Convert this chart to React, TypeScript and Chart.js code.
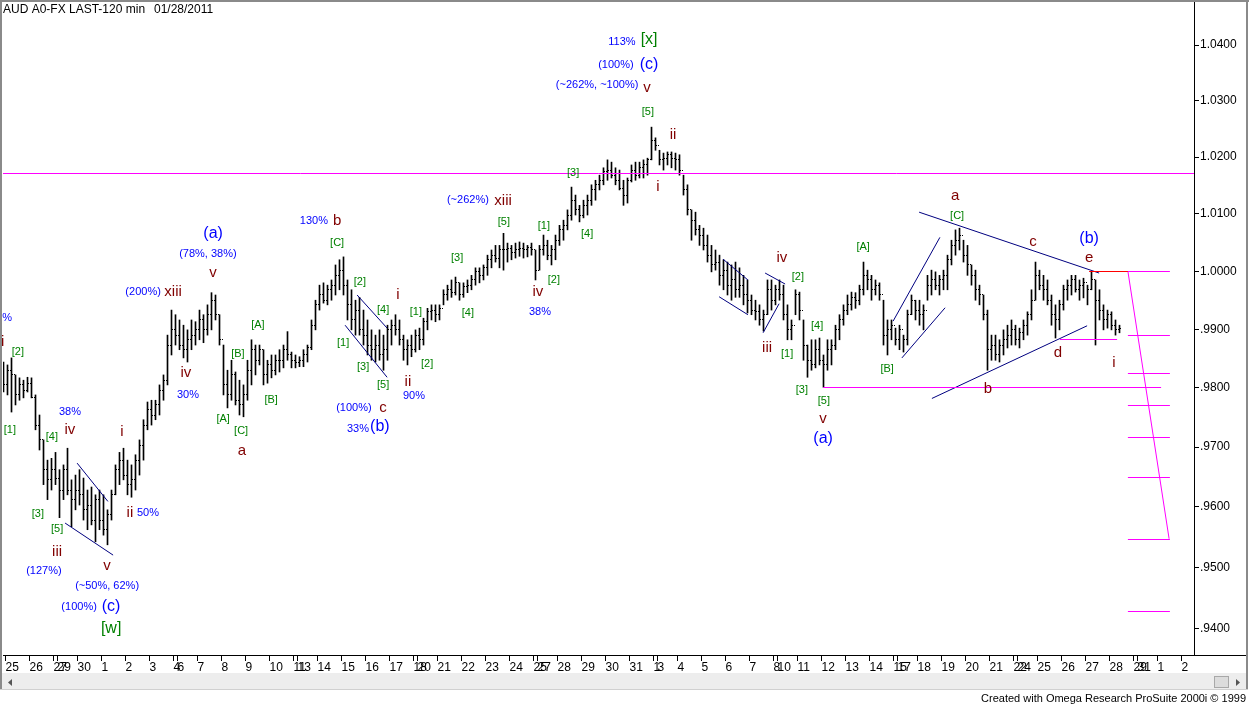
import React, { useEffect, useRef } from 'react';
import { Chart, registerables } from 'chart.js';
Chart.register(...registerables);

// ---- price data (values in 1/10000 of AUD/USD, one bar per 4 hours of the 120-min chart) ----
const highs = [
9844,9839,9851,9822,9817,9813,9818,9817,9788,9754,
9712,9678,9681,9691,9662,9670,9698,9645,9653,9662,
9648,9628,9633,9620,9628,9620,9595,9628,9670,9691,
9698,9678,9670,9687,9712,9746,9776,9779,9779,9805,
9822,9890,9933,9925,9916,9907,9899,9916,9913,9933,
9925,9942,9963,9959,9925,9873,9830,9847,9827,9813,
9805,9847,9882,9873,9873,9865,9847,9856,9856,9865,
9873,9896,9861,9856,9853,9865,9873,9916,9950,9976,
9980,9976,9985,10011,10020,10025,9985,9968,9950,9955,
9933,9916,9899,9890,9899,9890,9907,9916,9925,9916,
9890,9882,9890,9899,9902,9919,9936,9942,9942,9942,
9968,9976,9985,9990,9980,9980,9985,9993,10006,10006,
10011,10028,10037,10045,10045,10066,10049,10045,10049,10051,
10049,10045,10049,10037,10045,10063,10054,10045,10063,10080,
10089,10107,10147,10133,10115,10124,10133,10151,10159,10168,
10181,10195,10191,10181,10177,10159,10163,10186,10191,10191,
10195,10198,10253,10234,10212,10207,10209,10209,10207,10204,
10168,10151,10107,10103,10080,10075,10063,10045,10037,10028,
10020,10016,10011,10016,10006,9993,9985,9959,9950,9942,
9933,9985,9985,9976,9985,9976,9942,9916,9968,9964,
9916,9873,9882,9882,9885,9856,9882,9882,9907,9925,
9942,9959,9964,9963,9976,10016,10002,9993,9985,9980,
9950,9916,9916,9902,9907,9890,9933,9959,9950,9950,
9942,9993,10002,9999,9993,10002,10028,10054,10072,10075,
10054,10045,10011,10002,9976,9959,9933,9890,9890,9882,
9899,9907,9916,9907,9902,9916,9930,9968,10016,10002,
9993,9985,9959,9942,9950,9976,9985,9993,9993,9985,
9988,9976,9999,9985,9968,9942,9933,9930,9916,9907
];
const lows = [
9793,9788,9759,9771,9779,9783,9793,9783,9729,9695,
9637,9612,9628,9637,9582,9612,9620,9567,9595,9603,
9578,9562,9570,9542,9562,9553,9537,9578,9620,9637,
9645,9620,9616,9628,9653,9678,9729,9737,9746,9754,
9779,9805,9856,9873,9865,9851,9844,9865,9873,9882,
9877,9890,9899,9916,9873,9788,9766,9779,9771,9754,
9751,9779,9805,9822,9839,9805,9808,9817,9822,9827,
9834,9847,9834,9834,9836,9836,9844,9865,9899,9933,
9945,9942,9950,9959,9968,9959,9916,9899,9890,9890,
9873,9856,9847,9844,9847,9830,9847,9873,9890,9873,
9847,9839,9853,9861,9865,9873,9899,9916,9913,9916,
9942,9950,9955,9959,9950,9955,9963,9968,9976,9980,
9985,9993,10006,10016,10006,10002,10016,10020,10023,10026,
10023,10025,10028,9985,10002,10028,10020,10011,10020,10045,
10054,10072,10089,10098,10086,10093,10098,10115,10124,10142,
10151,10159,10163,10151,10142,10115,10119,10156,10159,10163,
10163,10168,10195,10212,10186,10177,10186,10181,10177,10168,
10133,10098,10054,10063,10045,10037,10016,9999,10002,9976,
9968,9959,9950,9955,9955,9942,9928,9925,9916,9907,
9897,9925,9933,9942,9950,9916,9882,9882,9925,9916,
9847,9818,9830,9834,9839,9801,9830,9839,9865,9882,
9907,9925,9933,9936,9942,9959,9968,9950,9959,9950,
9873,9856,9882,9873,9865,9861,9873,9925,9916,9907,
9899,9950,9959,9968,9959,9968,9968,10011,10028,10037,
10016,9993,9976,9950,9942,9916,9830,9847,9847,9844,
9856,9868,9873,9873,9868,9882,9890,9916,9950,9968,
9950,9942,9907,9885,9899,9933,9950,9959,9964,9950,
9954,9942,9968,9873,9916,9899,9902,9899,9890,9894
];
const closes = [
9805,9830,9822,9788,9805,9796,9808,9783,9737,9712,
9662,9645,9662,9648,9628,9662,9628,9612,9628,9620,
9595,9603,9578,9612,9578,9562,9587,9620,9662,9678,
9653,9637,9645,9678,9703,9737,9763,9754,9771,9796,
9813,9873,9899,9890,9873,9865,9882,9890,9899,9916,
9899,9925,9950,9925,9882,9805,9788,9822,9779,9771,
9788,9830,9865,9847,9865,9822,9839,9830,9847,9847,
9865,9856,9847,9844,9847,9856,9868,9907,9942,9959,
9950,9968,9976,9993,10002,9976,9942,9916,9933,9899,
9890,9873,9865,9873,9856,9865,9899,9907,9899,9882,
9865,9873,9865,9890,9882,9913,9930,9933,9925,9936,
9959,9968,9964,9980,9959,9973,9976,9985,9999,9993,
10006,10020,10028,10023,10037,10037,10040,10033,10037,10040,
10037,10042,10037,10002,10037,10045,10028,10037,10054,10072,
10080,10098,10124,10107,10098,10115,10124,10142,10151,10159,
10174,10177,10168,10159,10145,10133,10159,10177,10168,10181,
10186,10195,10230,10221,10195,10198,10204,10198,10195,10177,
10142,10107,10089,10072,10063,10045,10028,10011,10016,9993,
10002,9976,9985,9968,9976,9959,9950,9933,9930,9916,
9925,9968,9950,9968,9959,9925,9899,9907,9959,9933,
9873,9847,9839,9865,9847,9839,9865,9873,9899,9916,
9933,9942,9954,9950,9968,9993,9985,9968,9976,9959,
9890,9899,9907,9882,9899,9882,9925,9950,9933,9925,
9933,9976,9985,9976,9985,9993,10020,10045,10054,10063,
10028,10011,9993,9968,9959,9925,9865,9873,9856,9873,
9882,9890,9899,9882,9894,9907,9925,9950,9993,9976,
9968,9950,9925,9916,9942,9968,9976,9985,9968,9976,
9981,9968,9985,9950,9933,9916,9925,9907,9899,9902
];

// ---- axis ticks ----
const dayLabels = ['25','26','27','29','30','1','2','3','4','6','7','8','9','10','11','13','14','15','16','17','18','20','21','22','23','24','25','27','28','29','30','31','1','3','4','5','6','7','8','10','11','12','13','14','15','17','18','19','20','21','22','24','25','26','27','28','29','31','1','2'];
const dayTicks = [0.5,6.5,12.5,13.5,18.5,24.5,30.5,36.5,42.5,43.5,48.5,54.5,60.5,66.5,72.5,73.5,78.5,84.5,90.5,96.5,102.5,103.5,108.5,114.5,120.5,126.5,132.5,133.5,138.5,144.5,150.5,156.5,162.5,163.5,168.5,174.5,180.5,186.5,192.5,193.5,198.5,204.5,210.5,216.5,222.5,223.5,228.5,234.5,240.5,246.5,252.5,253.5,258.5,264.5,270.5,276.5,282.5,283.5,288.5,294.5];
const priceTicks = [0.94, 0.95, 0.96, 0.97, 0.98, 0.99, 1.0, 1.01, 1.02, 1.03, 1.04];

// ---- wave labels: [text, bar position, price] ----
const blueNotes: [string, number, number][] = [
  ['%', 0.9, 0.9919], ['38%', 16.6, 0.9759], ['(127%)', 10.1, 0.9494], ['(~50%, 62%)', 25.9, 0.9469],
  ['(100%)', 18.9, 0.9435], ['50%', 36.1, 0.9590], ['30%', 46.1, 0.9788], ['(200%)', 34.9, 0.9964],
  ['(78%, 38%)', 51.1, 1.0030], ['130%', 77.6, 1.0087], ['(100%)', 87.6, 0.9766], ['33%', 88.6, 0.9730],
  ['90%', 102.6, 0.9786], ['(~262%)', 116.1, 1.0124], ['38%', 134.1, 0.9930], ['(~262%, ~100%)', 148.4, 1.0328],
  ['(100%)', 153.1, 1.0364], ['113%', 154.6, 1.0405]
];
const blueWaves: [string, number, number][] = [
  ['(a)', 52.4, 1.0066], ['(c)', 26.9, 0.9435], ['(b)', 94.1, 0.9734], ['(c)', 161.4, 1.0364],
  ['(a)', 204.9, 0.9715], ['(b)', 271.4, 1.0056]
];
const greenWaves: [string, number, number][] = [['[w]', 26.9, 0.9399], ['[x]', 161.4, 1.0409]];
const redWaves: [string, number, number][] = [
  ['i', -0.2, 0.9878], ['iv', 16.6, 0.9729], ['iii', 13.4, 0.9525], ['v', 25.9, 0.9502], ['i', 29.6, 0.9725],
  ['ii', 31.6, 0.9590], ['xiii', 42.4, 0.9964], ['iv', 45.6, 0.9825], ['v', 52.4, 0.9997], ['a', 59.6, 0.9693],
  ['b', 83.4, 1.0087], ['c', 94.9, 0.9766], ['i', 98.6, 0.9959], ['ii', 101.1, 0.9811], ['xiii', 124.9, 1.0122],
  ['iv', 133.6, 0.9964], ['v', 160.9, 1.0323], ['ii', 167.4, 1.0239], ['i', 163.6, 1.0147], ['iii', 190.9, 0.9868],
  ['iv', 194.6, 1.0023], ['v', 204.9, 0.9748], ['a', 237.9, 1.0131], ['b', 246.1, 0.9798], ['c', 257.4, 1.0052],
  ['d', 263.6, 0.9860], ['e', 271.4, 1.0023], ['i', 277.6, 0.9842]
];
const greenNotes: [string, number, number][] = [
  ['[1]', 1.6, 0.9729], ['[2]', 3.6, 0.9861], ['[4]', 12.1, 0.9717], ['[3]', 8.6, 0.9588], ['[5]', 13.4, 0.9563],
  ['[A]', 54.9, 0.9748], ['[B]', 58.6, 0.9858], ['[C]', 59.4, 0.9727], ['[A]', 63.6, 0.9907], ['[B]', 66.9, 0.9779],
  ['[C]', 83.4, 1.0049], ['[2]', 89.1, 0.9981], ['[4]', 94.9, 0.9933], ['[1]', 84.9, 0.9877], ['[3]', 89.9, 0.9836],
  ['[5]', 94.9, 0.9805], ['[1]', 103.1, 0.9930], ['[2]', 105.9, 0.9841], ['[3]', 113.4, 1.0023], ['[4]', 116.1, 0.9928],
  ['[5]', 125.1, 1.0086], ['[1]', 135.1, 1.0079], ['[2]', 137.6, 0.9985], ['[3]', 142.4, 1.0172], ['[4]', 145.9, 1.0065],
  ['[5]', 161.1, 1.0280], ['[2]', 198.6, 0.9990], ['[1]', 195.9, 0.9858], ['[4]', 203.4, 0.9906], ['[3]', 199.6, 0.9796],
  ['[5]', 205.1, 0.9778], ['[A]', 214.9, 1.0042], ['[B]', 220.9, 0.9832], ['[C]', 238.4, 1.0096]
];

// ---- drawn lines: [bar1, price1, bar2, price2] ----
const trendLines: [number, number, number, number][] = [
  [18.4, 0.9673, 26.1, 0.9609], [15.4, 0.9573, 27.4, 0.9520],
  [88.4, 0.9959, 95.9, 0.9902], [85.4, 0.9907, 95.9, 0.9818],
  [179.9, 1.0021, 186.1, 0.9985], [178.9, 0.9956, 186.1, 0.9925],
  [190.4, 0.9997, 195.4, 0.9978], [189.9, 0.9894, 193.9, 0.9944],
  [222.4, 0.9914, 234.1, 1.0059], [224.6, 0.9851, 235.4, 0.9937],
  [228.9, 1.0103, 273.9, 0.9997], [232.1, 0.9782, 270.9, 0.9906]
];
const magentaLines: [number, number, number, number][] = [
  [204.9, 0.9802, 289.4, 0.9802], [264.1, 0.9884, 278.4, 0.9884],
  [281.1, 1.0, 291.6, 1.0], [281.1, 1.0, 291.4, 0.9547]
];
const redLines: [number, number, number, number][] = [[271.4, 1.0, 281.1, 1.0]];
const targetLevels = [0.9890, 0.9825, 0.9771, 0.9717, 0.9650, 0.9547, 0.9428];
const targetSpan = [281.1, 291.6];
const resistance = 1.0172;

const FONT = 'Arial, "Liberation Sans", sans-serif';

function fmtPrice(v: number) {
  const s = v.toFixed(4);
  return v < 1 ? s.slice(1) : s;
}

const chromePlugin = {
  id: 'chrome',
  beforeDraw(chart: any) {
    const ctx = chart.ctx;
    ctx.save();
    ctx.fillStyle = '#ffffff';
    ctx.fillRect(0, 0, chart.width, chart.height);
    ctx.restore();
  },
  afterDraw(chart: any) {
    const ctx = chart.ctx;
    const a = chart.chartArea;
    ctx.save();
    // frame
    ctx.fillStyle = '#8a8a8a';
    ctx.fillRect(0, 0, chart.width, 2);
    ctx.fillRect(0, 0, 2, 690);
    ctx.fillRect(1246, 0, 2, 690);
    // axis line extension
    ctx.fillStyle = '#000';
    ctx.fillRect(a.right, Math.round(a.bottom), 1246 - a.right, 1);
    // scrollbar
    ctx.fillStyle = '#ededed';
    ctx.fillRect(2, 673, 1244, 16);
    ctx.fillStyle = '#d0d0d0';
    ctx.fillRect(0, 689, 1248, 1);
    ctx.fillStyle = '#555';
    ctx.beginPath(); ctx.moveTo(8, 682.5); ctx.lineTo(12, 679); ctx.lineTo(12, 686); ctx.closePath(); ctx.fill();
    ctx.beginPath(); ctx.moveTo(1240, 682.5); ctx.lineTo(1236, 679); ctx.lineTo(1236, 686); ctx.closePath(); ctx.fill();
    ctx.fillStyle = '#dcdcdc';
    ctx.fillRect(1214, 676, 15, 12);
    ctx.strokeStyle = '#a8a8a8';
    ctx.strokeRect(1214.5, 676.5, 14, 11);
    // title & footer
    ctx.fillStyle = '#000';
    ctx.font = '12px ' + FONT;
    ctx.textBaseline = 'middle';
    ctx.textAlign = 'left';
    ctx.fillText('AUD A0-FX LAST-120 min', 3, 10);
    ctx.fillText('01/28/2011', 154, 10);
    ctx.textAlign = 'right';
    ctx.font = '11px ' + FONT;
    ctx.fillText('Created with Omega Research ProSuite 2000i \u00A9 1999', 1246, 699);
    ctx.restore();
  }
};

const ohlcTicks = {
  id: 'ohlcTicks',
  afterDatasetsDraw(chart: any) {
    const ctx = chart.ctx;
    const xs = chart.scales.x, ys = chart.scales.y;
    ctx.save();
    ctx.fillStyle = '#000';
    for (let j = 0; j < closes.length; j++) {
      const px = Math.round(xs.getPixelForValue(j) - 0.5);
      const yc = Math.floor(ys.getPixelForValue(closes[j] / 10000));
      ctx.fillRect(px + 1, yc, 1, 1);
      if (j > 0) {
        const yo = Math.floor(ys.getPixelForValue(closes[j - 1] / 10000));
        ctx.fillRect(px - 1, yo, 1, 1);
      }
    }
    ctx.restore();
  }
};

const notesPlugin = {
  id: 'notes',
  afterDraw(chart: any) {
    const ctx = chart.ctx;
    const xs = chart.scales.x, ys = chart.scales.y;
    const a = chart.chartArea;
    const X = (v: number) => xs.getPixelForValue(v);
    const Y = (v: number) => ys.getPixelForValue(v);
    ctx.save();
    ctx.lineWidth = 1;
    const seg = (l: [number, number, number, number], color: string) => {
      ctx.strokeStyle = color;
      ctx.beginPath();
      let y1 = Y(l[1]), y2 = Y(l[3]);
      if (l[1] === l[3]) { y1 = Math.round(y1) + 0.5; y2 = y1; }
      ctx.moveTo(X(l[0]), y1);
      ctx.lineTo(X(l[2]), y2);
      ctx.stroke();
    };
    // resistance line across the whole chart
    ctx.strokeStyle = '#ff00ff';
    const yr = Math.round(Y(resistance)) + 0.5;
    ctx.beginPath(); ctx.moveTo(a.left, yr); ctx.lineTo(a.right, yr); ctx.stroke();
    trendLines.forEach(l => seg(l, '#000080'));
    magentaLines.forEach(l => seg(l, '#ff00ff'));
    targetLevels.forEach(p => seg([targetSpan[0], p, targetSpan[1], p], '#ff00ff'));
    redLines.forEach(l => seg(l, '#ff0000'));
    ctx.textAlign = 'center';
    ctx.textBaseline = 'middle';
    const txt = (list: [string, number, number][], color: string, size: number) => {
      ctx.fillStyle = color;
      ctx.font = size + 'px ' + FONT;
      list.forEach(([t, x, p]) => ctx.fillText(t, X(x), Y(p)));
    };
    txt(blueNotes, '#0000ff', 11);
    txt(greenNotes, '#008000', 11);
    txt(redWaves, '#800000', 15);
    txt(blueWaves, '#0000ff', 16);
    txt(greenWaves, '#008000', 16);
    ctx.restore();
  }
};

export default function App() {
  const ref = useRef<HTMLCanvasElement>(null);
  useEffect(() => {
    document.body.style.margin = '0';
    const barData = highs.map((h, j) => ({ x: j, y: [lows[j] / 10000, h / 10000] }));
    const chart = new Chart(ref.current as HTMLCanvasElement, {
      type: 'bar',
      data: {
        datasets: [{
          data: barData as any,
          backgroundColor: '#000000',
          borderWidth: 0,
          barThickness: 1,
          grouped: false
        } as any]
      },
      options: {
        animation: false,
        responsive: false,
        devicePixelRatio: 1,
        layout: { padding: { left: 3, top: 2, right: 0, bottom: 0 } },
        plugins: { legend: { display: false }, tooltip: { enabled: false } },
        scales: {
          x: {
            type: 'linear',
            min: -0.125,
            max: 297.625,
            offset: false,
            afterBuildTicks: (s: any) => { s.ticks = dayTicks.map(v => ({ value: v })); },
            afterFit: (s: any) => { s.height = 50; s.paddingLeft = 0; s.paddingRight = 0; s.paddingTop = 0; s.paddingBottom = 0; },
            grid: { drawOnChartArea: false, drawTicks: true, tickLength: 6, color: '#000', offset: false },
            border: { display: true, color: '#000', width: 1 },
            ticks: {
              autoSkip: false, maxRotation: 0, minRotation: 0, align: 'start', padding: -1,
              color: '#000', font: { family: FONT, size: 12 },
              callback: (_v: any, i: number) => dayLabels[i]
            }
          } as any,
          y: {
            type: 'logarithmic',
            position: 'right',
            min: 0.93566,
            max: 1.04778,
            afterBuildTicks: (s: any) => { s.ticks = priceTicks.map(v => ({ value: v })); },
            afterFit: (s: any) => { s.width = 55; s.paddingLeft = 0; s.paddingRight = 0; s.paddingTop = 0; s.paddingBottom = 0; },
            grid: { drawOnChartArea: false, drawTicks: true, tickLength: 5, color: '#000' },
            border: { display: true, color: '#000', width: 1 },
            ticks: {
              padding: 1, color: '#000', font: { family: FONT, size: 12 },
              callback: (v: any) => fmtPrice(Number(v))
            }
          } as any
        }
      },
      plugins: [chromePlugin, ohlcTicks, notesPlugin]
    } as any);
    return () => chart.destroy();
  }, []);
  return (
    <div style={{ width: 1249, height: 705, position: 'relative' }}>
      <canvas ref={ref} width={1249} height={705} style={{ display: 'block' }} />
    </div>
  );
}
